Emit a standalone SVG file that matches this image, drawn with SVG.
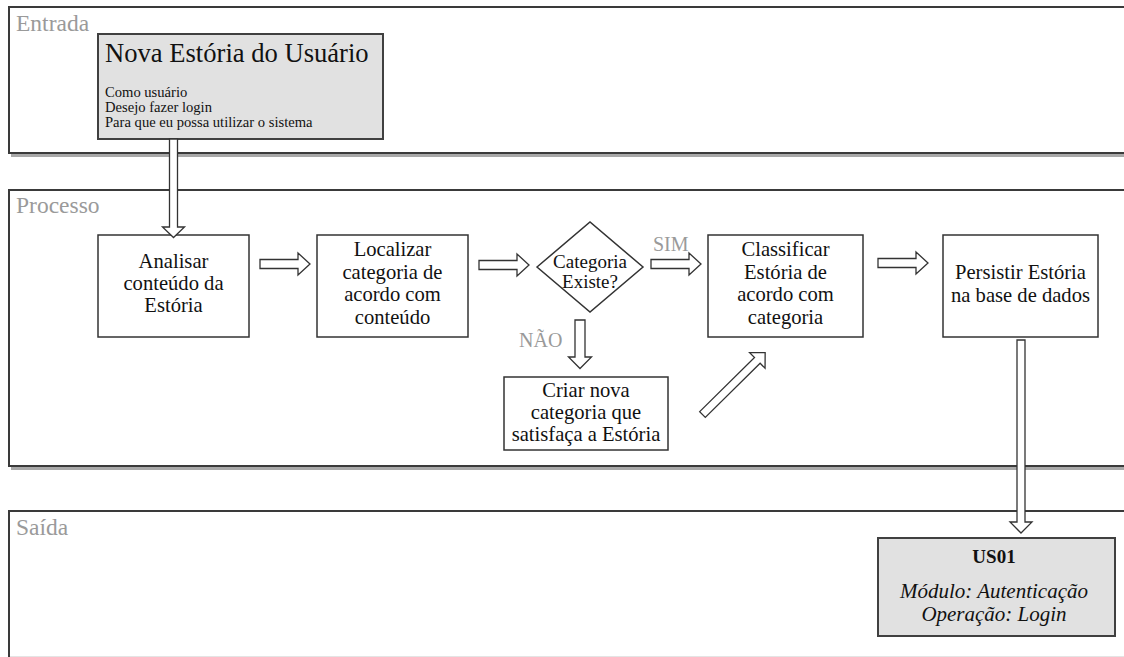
<svg xmlns="http://www.w3.org/2000/svg" width="1124" height="657" viewBox="0 0 1124 657">
  <defs>
    <style>
      text { font-family: "Liberation Serif", "Tinos", "DejaVu Serif", serif; }
      .panel { fill: #ffffff; stroke: #3a3a3a; stroke-width: 2; }
      .shadow { stroke: #a8a8a8; stroke-width: 3; }
      .plabel { font-size: 23.5px; fill: #9a9a9a; }
      .box { fill: #ffffff; stroke: #333333; stroke-width: 1.5; }
      .note { fill: #e1e1e1; stroke: #404040; stroke-width: 2; }
      .t { font-size: 20.6px; fill: #111111; text-anchor: middle; }
      .dt { font-size: 19px; fill: #111111; text-anchor: middle; }
      .cond { font-size: 20px; fill: #9a9a9a; }
      .title { font-size: 26.6px; fill: #111111; }
      .small { font-size: 14.6px; fill: #111111; }
      .code { font-size: 19px; font-weight: bold; fill: #111111; text-anchor: middle; }
      .it { font-size: 21px; font-style: italic; fill: #111111; text-anchor: middle; }
      .arrow { fill: #ffffff; stroke: #333333; stroke-width: 1.3; stroke-linejoin: miter; }
    </style>
  </defs>

  <rect width="1124" height="657" fill="#ffffff"/>

  <!-- swimlane panels -->
  <g id="lane-entrada">
    <line class="shadow" x1="11" y1="155.5" x2="1124" y2="155.5"/>
    <rect class="panel" x="9" y="7" width="1130" height="146"/>
    <text class="plabel" x="16" y="31">Entrada</text>
  </g>
  <g id="lane-processo">
    <line class="shadow" x1="11" y1="468.5" x2="1124" y2="468.5"/>
    <rect class="panel" x="9" y="190" width="1130" height="276"/>
    <text class="plabel" x="16" y="213">Processo</text>
  </g>
  <g id="lane-saida">
    <rect class="panel" x="9" y="511" width="1130" height="200"/>
    <line x1="10" y1="656.5" x2="1124" y2="656.5" stroke="#e4e4e4" stroke-width="1"/>
    <text class="plabel" x="16" y="535">Saída</text>
  </g>

  <!-- input story -->
  <g id="node-nova-estoria">
    <rect class="note" x="98" y="34" width="285" height="105"/>
    <text class="title" x="105" y="62">Nova Estória do Usuário</text>
    <text class="small" x="105" y="97">Como usuário</text>
    <text class="small" x="105" y="112">Desejo fazer login</text>
    <text class="small" x="105" y="127">Para que eu possa utilizar o sistema</text>
  </g>

  <!-- process steps -->
  <g id="node-analisar">
    <rect class="box" x="98" y="235" width="151" height="102"/>
    <text class="t" x="173.5" y="268">Analisar</text>
    <text class="t" x="173.5" y="290">conteúdo da</text>
    <text class="t" x="173.5" y="312">Estória</text>
  </g>
  <g id="node-localizar">
    <rect class="box" x="317" y="235" width="151" height="102"/>
    <text class="t" x="392.5" y="256">Localizar</text>
    <text class="t" x="392.5" y="278.5">categoria de</text>
    <text class="t" x="392.5" y="301">acordo com</text>
    <text class="t" x="392.5" y="323.5">conteúdo</text>
  </g>
  <g id="node-categoria-existe">
    <polygon class="box" points="537,267 590,222 643,267 590,312"/>
    <text class="dt" x="590" y="268">Categoria</text>
    <text class="dt" x="590" y="288">Existe?</text>
  </g>
  <g id="node-criar">
    <rect class="box" x="504" y="377" width="164" height="73"/>
    <text class="t" x="586" y="397">Criar nova</text>
    <text class="t" x="586" y="419">categoria que</text>
    <text class="t" x="586" y="441">satisfaça a Estória</text>
  </g>
  <g id="node-classificar">
    <rect class="box" x="708" y="235" width="155" height="102"/>
    <text class="t" x="785.5" y="256">Classificar</text>
    <text class="t" x="785.5" y="278.5">Estória de</text>
    <text class="t" x="785.5" y="301">acordo com</text>
    <text class="t" x="785.5" y="323.5">categoria</text>
  </g>
  <g id="node-persistir">
    <rect class="box" x="943" y="235" width="155" height="102"/>
    <text class="t" x="1020.5" y="279">Persistir Estória</text>
    <text class="t" x="1020.5" y="302">na base de dados</text>
  </g>

  <!-- output -->
  <g id="node-us01">
    <rect class="note" x="878" y="538" width="237" height="98"/>
    <text class="code" x="994" y="563">US01</text>
    <text class="it" x="994" y="598">Módulo: Autenticação</text>
    <text class="it" x="994" y="621">Operação: Login</text>
  </g>

  <!-- hollow block arrows -->
  <g id="connectors">
    <polygon class="arrow" points="169.5,139 177.5,139 177.5,227 184.5,227 173.5,237.5 162.5,227 169.5,227"/>
    <polygon class="arrow" points="260,259.5 298,259.5 298,253 310,264 298,275 298,268.5 260,268.5"/>
    <polygon class="arrow" points="479,260.5 517,260.5 517,254 529,265 517,276 517,269.5 479,269.5"/>
    <polygon class="arrow" points="651,259.5 689,259.5 689,253 701,264 689,275 689,268.5 651,268.5"/>
    <polygon class="arrow" points="878,258.5 916,258.5 916,252 928,263 916,274 916,267.5 878,267.5"/>
    <polygon class="arrow" points="575,320 585,320 585,357 591.5,357 580,368.5 568.5,357 575,357"/>
    <polygon class="arrow" transform="translate(702.5,414.5) rotate(-44.6)" points="0,-4 77,-4 77,-11 88,0 77,11 77,4 0,4"/>
    <polygon class="arrow" points="1017,340 1025,340 1025,522 1032,522 1021,533 1010,522 1017,522"/>
    <text class="cond" x="653" y="251">SIM</text>
    <text class="cond" x="519" y="347">NÃO</text>
  </g>
</svg>
